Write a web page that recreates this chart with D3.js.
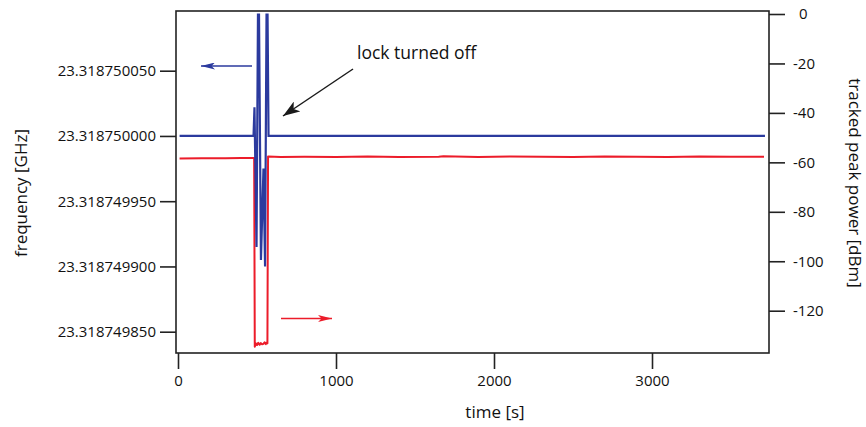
<!DOCTYPE html>
<html>
<head>
<meta charset="utf-8">
<script src="https://cdn.jsdelivr.net/npm/d3@7"></script>
<style>
  html, body { margin: 0; padding: 0; background: #fff; }
  svg { display: block; font-family: "Open Sans", "Noto Sans", sans-serif; }
</style>
</head>
<body>
<svg id="chart" width="866" height="427"></svg>
<script>
// ---- data ----
const timeTicks = [0, 1000, 2000, 3000];
const timeTickLabels = ["0", "1000", "2000", "3000"];
const freqTicks = [23.318750050, 23.318750000, 23.318749950, 23.318749900, 23.318749850];
const freqTickLabels = ["23.318750050", "23.318750000", "23.318749950", "23.318749900", "23.318749850"];
const powerTicks = [0, -20, -40, -60, -80, -100, -120];
const powerTickLabels = ["0", "-20", "-40", "-60", "-80", "-100", "-120"];

// frequency trace (blue, left axis) [s] / [GHz]
const blueTime = [10, 478, 484, 497, 509, 525, 541, 551, 563, 573, 3715];
const blueFreq = [23.318750000, 23.318750000, 23.318750022, 23.318749915, 23.318750150,
                  23.318749905, 23.318749975, 23.318749900, 23.318750150, 23.318750000, 23.318750000];

// tracked peak power (red, right axis) [s] / [dBm]
const redTime = [10, 150, 300, 400, 478, 482, 486, 492, 500, 508, 516, 524, 532, 540, 548, 556, 562, 566,
                 570, 650, 800, 1000, 1200, 1400, 1650, 1680, 1900, 2100, 2300, 2500, 2700, 2900, 3100, 3300, 3500, 3709];
const redPower = [-58.4, -58.3, -58.3, -58.2, -58.2, -58.2, -134.6, -133.2, -133.9, -133.0, -133.8, -133.1, -133.6,
                  -133.4, -132.8, -133.5, -132.9, -133.2,
                  -57.6, -57.8, -57.7, -57.8, -57.6, -57.8, -57.7, -57.5, -57.8, -57.6, -57.7, -57.8, -57.6, -57.7,
                  -57.8, -57.6, -57.7, -57.7];

const annotationText = "lock turned off";
const xTitle = "time [s]";
const yLeftTitle = "frequency [GHz]";
const yRightTitle = "tracked peak power [dBm]";

// ---- layout ----
const frame = { left: 176, right: 769, top: 11, bottom: 353 };
const blueColor = "#2b3a9e";
const redColor = "#ec1c2a";
const axisColor = "#222";

const svg = d3.select("#chart");

const x = d3.scaleLinear().domain([0, 3000]).range([178, 652]);
const yL = d3.scaleLinear().domain([23.318750050, 23.318749850]).range([70.7, 331.7]);
const yR = d3.scaleLinear().domain([0, -120]).range([14, 310.7]);

// clip
svg.append("defs").append("clipPath").attr("id", "plotClip")
  .append("rect")
  .attr("x", frame.left).attr("y", frame.top + 2.5)
  .attr("width", frame.right - frame.left).attr("height", frame.bottom - frame.top - 2.5);

// markers
const defs = svg.select("defs");
function marker(id, color, len, half) {
  defs.append("marker").attr("id", id)
    .attr("viewBox", `0 ${-half} ${len} ${2 * half}`)
    .attr("refX", len).attr("refY", 0)
    .attr("markerWidth", len).attr("markerHeight", 2 * half)
    .attr("markerUnits", "userSpaceOnUse")
    .attr("orient", "auto")
    .append("path").attr("d", `M0,${-half}L${len},0L0,${half}L${len * 0.25},0Z`).attr("fill", color);
}
marker("arrBlue", blueColor, 14, 3.5);
marker("arrRed", redColor, 14, 3.5);
marker("arrBlack", "#1a1a1a", 17, 6);

// traces
const plot = svg.append("g").attr("clip-path", "url(#plotClip)");

const redData = redTime.map((t, i) => [t, redPower[i]]);
plot.append("path")
  .datum(redData)
  .attr("fill", "none").attr("stroke", redColor).attr("stroke-width", 2)
  .attr("stroke-linejoin", "round")
  .attr("d", d3.line().x(d => x(d[0])).y(d => yR(d[1])));

const blueData = blueTime.map((t, i) => [t, blueFreq[i]]);
plot.append("path")
  .datum(blueData)
  .attr("fill", "none").attr("stroke", blueColor).attr("stroke-width", 2.2)
  .attr("stroke-linejoin", "miter").attr("stroke-miterlimit", 2)
  .attr("d", d3.line().x(d => x(d[0])).y(d => yL(d[1])));

// frame
svg.append("rect")
  .attr("x", frame.left).attr("y", frame.top)
  .attr("width", frame.right - frame.left).attr("height", frame.bottom - frame.top)
  .attr("fill", "none").attr("stroke", axisColor).attr("stroke-width", 1.6);

// axes
const tickLen = 16;
const axisBottom = d3.axisBottom(x).tickValues(timeTicks)
  .tickFormat((d, i) => timeTickLabels[i]).tickSize(tickLen).tickPadding(6);
const gB = svg.append("g").attr("transform", `translate(0,${frame.bottom})`).call(axisBottom);

const axisLeft = d3.axisLeft(yL).tickValues(freqTicks)
  .tickFormat((d, i) => freqTickLabels[i]).tickSize(tickLen).tickPadding(4);
const gL = svg.append("g").attr("transform", `translate(${frame.left},0)`).call(axisLeft);

const axisRight = d3.axisRight(yR).tickValues(powerTicks)
  .tickFormat((d, i) => powerTickLabels[i]).tickSize(tickLen).tickPadding(8);
const gR = svg.append("g").attr("transform", `translate(${frame.right},0)`).call(axisRight);

[gB, gL, gR].forEach(g => {
  g.select(".domain").remove();
  g.selectAll(".tick line").attr("stroke", axisColor).attr("stroke-width", 1.6);
  g.selectAll(".tick text").attr("fill", "#111").style("font-size", "15px")
    .style("font-family", '"Open Sans", "Noto Sans", sans-serif');
});
gR.selectAll(".tick text").filter(d => d === 0).attr("dx", "6");

// axis titles
svg.append("text")
  .attr("x", 495).attr("y", 418)
  .attr("text-anchor", "middle").attr("fill", "#111").style("font-size", "17px")
  .text(xTitle);

svg.append("text")
  .attr("transform", "translate(27,193) rotate(-90)")
  .attr("text-anchor", "middle").attr("fill", "#111").style("font-size", "17px")
  .text(yLeftTitle);

svg.append("text")
  .attr("transform", "translate(849,183) rotate(90)")
  .attr("text-anchor", "middle").attr("fill", "#111").style("font-size", "17px")
  .text(yRightTitle);

// annotations
svg.append("text")
  .attr("x", 357).attr("y", 59)
  .attr("fill", "#111").style("font-size", "17.5px")
  .text(annotationText);

svg.append("line")
  .attr("x1", 353).attr("y1", 69).attr("x2", 283).attr("y2", 116)
  .attr("stroke", "#1a1a1a").attr("stroke-width", 1.5)
  .attr("marker-end", "url(#arrBlack)");

svg.append("line")
  .attr("x1", 252).attr("y1", 66).attr("x2", 201).attr("y2", 66)
  .attr("stroke", blueColor).attr("stroke-width", 1.5)
  .attr("marker-end", "url(#arrBlue)");

svg.append("line")
  .attr("x1", 281).attr("y1", 318.5).attr("x2", 332).attr("y2", 318.5)
  .attr("stroke", redColor).attr("stroke-width", 1.5)
  .attr("marker-end", "url(#arrRed)");
</script>
</body>
</html>
